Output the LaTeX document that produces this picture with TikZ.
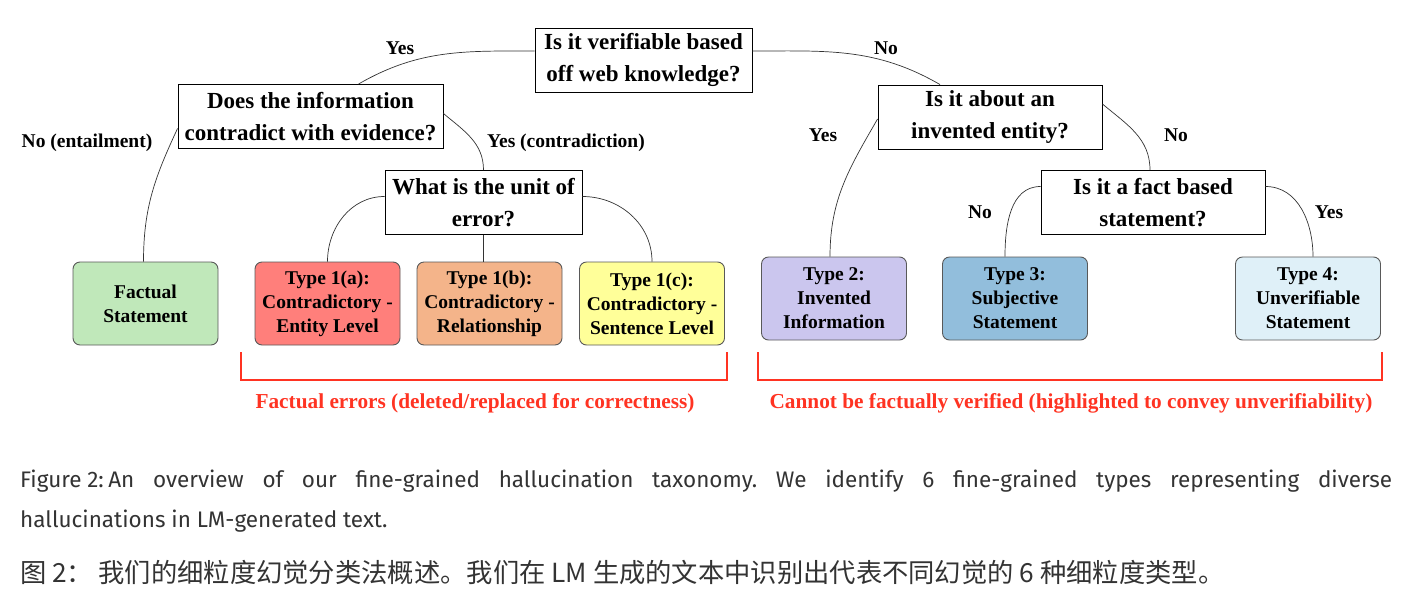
\documentclass[tikz,border=0pt]{standalone}
\usepackage{fontspec}
\setmainfont{Liberation Serif}
\newfontfamily\capFont{Fira Sans}
\newfontfamily\capFontZh{Noto Sans CJK SC}
\usetikzlibrary{positioning}
\definecolor{factGreen}{HTML}{C0E8BA}
\definecolor{typeRed}{HTML}{FF7F7B}
\definecolor{typeOrange}{HTML}{F4B48A}
\definecolor{typeYellow}{HTML}{FFFF99}
\definecolor{typeLilac}{HTML}{CBC6EE}
\definecolor{typeBlue}{HTML}{92BEDC}
\definecolor{typeIce}{HTML}{DFF0F8}
\definecolor{errRed}{HTML}{FF3322}
\definecolor{capGray}{HTML}{333333}
\def\qFont{\fontsize{23}{32}\selectfont\bfseries}
\def\leafFont{\fontsize{19.5}{24}\selectfont\bfseries}
\def\answerFont{\fontsize{19.5}{22}\selectfont\bfseries}
\def\groupFont{\fontsize{21.3}{24}\selectfont\bfseries}
\tikzset{% taxonomy styles
  question/.style = {draw, rectangle, line width=0.9pt, fill=white, align=center,
    inner sep=0, minimum height=64pt, font=\qFont},
  leaf/.style = {draw=black!65, rectangle, rounded corners=7pt, line width=0.9pt,
    align=center, inner sep=0, minimum width=145pt, minimum height=83pt, font=\leafFont},
  branch/.style = {draw=black!80, line width=0.7pt},
  answer/.style = {font=\answerFont, inner sep=0},
  bracket/.style = {draw=errRed, line width=1.6pt},
  group/.style = {font=\groupFont, text=errRed, inner sep=0},
}
\begin{document}
\begin{tikzpicture}[x=1pt, y=-1pt]
  \useasboundingbox (0,0) rectangle (1407,592);

  % Questions
  \node[question, minimum width=217pt] (Verifiable) at (643.5,60)
    {Is it verifiable based\\off web knowledge?};
  \node[question, minimum width=265pt] (Contradict) at (310.5,116.5)
    {Does the information\\contradict with evidence?};
  \node[question, minimum width=197pt] (Unit) at (483.5,202.5)
    {What is the unit of\\error?};
  \node[question, minimum width=224pt] (Invented) at (990,117)
    {Is it about an\\invented entity?};
  \node[question, minimum width=224pt] (FactBased) at (1153,202.5)
    {Is it a fact based\\statement?};

  % Leaves
  \node[leaf, fill=factGreen] (Factual) at (145.5,303.5) {Factual\\Statement};
  \node[leaf, fill=typeRed] (TypeOneA) at (327.5,303.5)
    {Type 1(a):\\Contradictory -\\Entity Level};
  \node[leaf, fill=typeOrange] (TypeOneB) at (489.5,303.5)
    {Type 1(b):\\Contradictory -\\Relationship};
  \node[leaf, fill=typeYellow] (TypeOneC) at (652,303.5)
    {Type 1(c):\\Contradictory -\\Sentence Level};
  \node[leaf, fill=typeLilac] (TypeTwo) at (834,298.5)
    {Type 2:\\Invented\\Information};
  \node[leaf, fill=typeBlue] (TypeThree) at (1015,298.5)
    {Type 3:\\Subjective\\Statement};
  \node[leaf, fill=typeIce] (TypeFour) at (1308,298.5)
    {Type 4:\\Unverifiable\\Statement};

  % Branches
  \draw[branch] ([yshift=9pt]Verifiable.west) to[out=180, in=30] ([xshift=48pt]Contradict.north);
  \draw[branch] ([yshift=9pt]Verifiable.east) to[out=0, in=150] ([xshift=-50pt]Invented.north);
  \draw[branch] ([yshift=-12pt]Contradict.west) to[out=245, in=90] ([xshift=-2pt]Factual.north);
  \draw[branch] ([yshift=3pt]Contradict.east) to[out=-40, in=90] (Unit.north);
  \draw[branch] ([yshift=6pt]Unit.west) to[out=180, in=90] (TypeOneA.north);
  \draw[branch] (Unit.south) -- (Unit.south |- TypeOneB.north);
  \draw[branch] ([yshift=6pt]Unit.east) to[out=0, in=90] (TypeOneC.north);
  \draw[branch] ([yshift=-2pt]Invented.west) to[out=240, in=90] ([xshift=-4pt]TypeTwo.north);
  \draw[branch] ([yshift=13pt]Invented.east) to[out=-40, in=90] ([xshift=-3pt]FactBased.north);
  \draw[branch] ([yshift=16pt]FactBased.west) to[out=180, in=90] ([xshift=-10pt]TypeThree.north);
  \draw[branch] ([yshift=16pt]FactBased.east) to[out=0, in=90] ([xshift=5pt]TypeFour.north);

  % Answers
  \node[answer] (aYesTop) at (400,48) {Yes};
  \node[answer] (aNoTop) at (886,48) {No};
  \node[answer] (aNoEnt) at (87,143) {No (entailment)};
  \node[answer] (aYesCon) at (566,143) {Yes (contradiction)};
  \node[answer] (aYesInv) at (823,135) {Yes};
  \node[answer] (aNoInv) at (1176,135) {No};
  \node[answer] (aNoFact) at (980,212) {No};
  \node[answer] (aYesFact) at (1329,212) {Yes};

  % Groups
  \coordinate (errL) at (241,352);
  \coordinate (errR) at (727,352);
  \coordinate (unvL) at (758,352);
  \coordinate (unvR) at (1382,352);
  \draw[bracket] (errL) -- ++(0,28) -| (errR);
  \draw[bracket] (unvL) -- ++(0,28) -| (unvR);
  \node[group] (errText) at (475,403) {Factual errors (deleted/replaced for correctness)};
  \node[group] (unvText) at (1071,403) {Cannot be factually verified (highlighted to convey unverifiability)};

  % Caption
  \node[anchor=north west, text width=1372pt, align=justify, inner sep=0, text=capGray,
    font=\capFont\fontsize{22.5}{40}\selectfont\frenchspacing] (Caption) at (20,470)
    {Figure\hspace{0.25em}2:\hspace{0.2em}An overview of our fine-grained hallucination taxonomy. We identify 6 fine-grained types representing diverse\linebreak hallucinations in LM-generated text.};
  \node[anchor=base west, inner sep=0, text=capGray, font=\capFontZh\fontsize{26.3}{28}\selectfont]
    (CaptionZh) at (20,582) {图 2：\hspace{0.2em}我们的细粒度幻觉分类法概述。我们在 LM 生成的文本中识别出代表不同幻觉的 6 种细粒度类型。};
\end{tikzpicture}
\end{document}
